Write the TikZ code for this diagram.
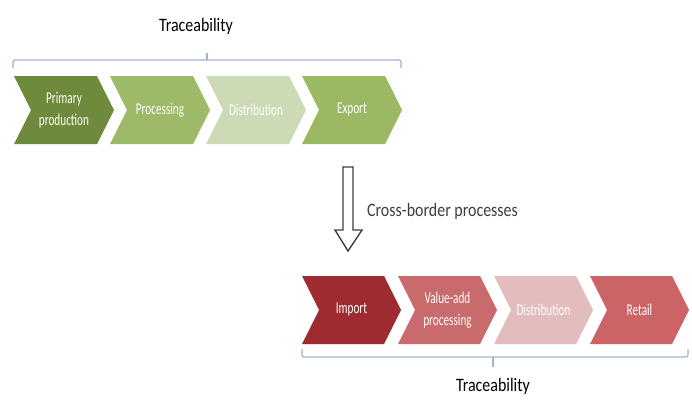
\documentclass[tikz,border=0pt]{standalone}
\usepackage{fontspec}
\setmainfont{Carlito}
\definecolor{gA}{HTML}{6E8B3D}
\definecolor{gB}{HTML}{9DBA68}
\definecolor{gC}{HTML}{CDDAB6}
\definecolor{gD}{HTML}{9BB862}
\definecolor{rA}{HTML}{9E2B30}
\definecolor{rB}{HTML}{C96A6C}
\definecolor{rC}{HTML}{E3BDBE}
\definecolor{rD}{HTML}{CC6467}
\definecolor{brk}{HTML}{9FB3D3}
\definecolor{ink}{HTML}{3F3F3F}
\newcommand\mychev[6]{%
  \fill[#5] (#2,#3) -- ++(#4,0) -- ++(17,34) -- ++(-17,34) -- ++(-#4,0) -- ++(17,-34) -- cycle;
  \node[chevtext] (#1) at ({#2+#4/2+8.5},{#3+34}) {#6};}
\begin{document}
\begin{tikzpicture}[x=1pt,y=-1pt,
  chevtext/.style={text=white,font=\fontsize{16.5}{22}\selectfont,align=center,xscale=0.68,inner sep=0pt},
  bigtext/.style={text=black,font=\fontsize{19}{22}\selectfont,xscale=0.84,inner sep=0pt},
  bracket/.style={draw=brk,line width=1.2pt,rounded corners=2pt}]
\useasboundingbox (0,0) rectangle (692,408);
\fill[white] (0,0) rectangle (692,408);
% top row
\mychev{pp}{14}{76}{83}{gA}{Primary\\production}
\mychev{proc}{110}{76}{83}{gB}{Processing}
\mychev{dist}{206}{76}{83}{gC}{Distribution}
\mychev{exp}{302}{76}{83}{gD}{Export}
% top bracket
\coordinate (tl) at (13,68);
\coordinate (tr) at (401,68);
\coordinate (tc) at (207,53);
\draw[bracket] (tl) -- (13,60) -- (401,60) -- (tr);
\draw[bracket] (207,60) -- (tc);
\node[bigtext] (trace1) at (196,26) {Traceability};
% arrow
\draw[ink,line width=1.4pt,line join=miter] (343,167) -- (353,167) -- (353,230) -- (362,230) -- (348,251) -- (335,230) -- (343,230) -- cycle;
\node[bigtext,text=ink,anchor=west] (cb) at (367,211) {Cross-border processes};
% bottom row
\mychev{imp}{302}{276}{82}{rA}{Import}
\mychev{vap}{398}{276}{82}{rB}{Value-add\\processing}
\mychev{dist2}{494}{276}{82}{rC}{Distribution}
\mychev{ret}{590}{276}{82}{rD}{Retail}
% bottom bracket
\coordinate (bl) at (302,349);
\coordinate (br) at (688,349);
\coordinate (bc) at (493,367);
\draw[bracket] (bl) -- (302,357) -- (688,357) -- (br);
\draw[bracket] (493,357) -- (bc);
\node[bigtext] (trace2) at (493,386) {Traceability};
\end{tikzpicture}
\end{document}
